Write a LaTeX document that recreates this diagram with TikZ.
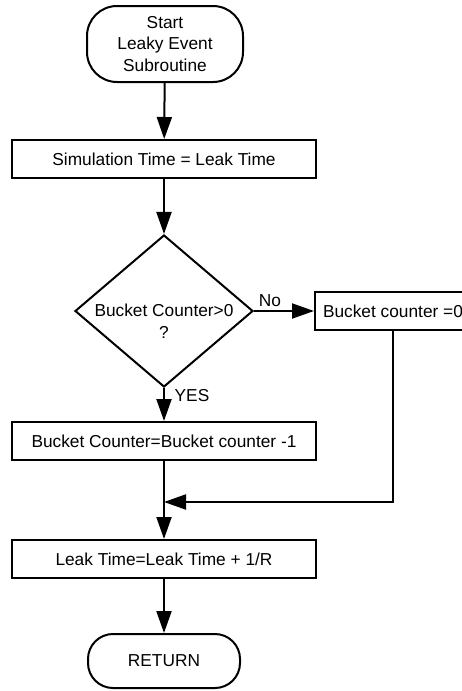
\documentclass[tikz,border=0pt]{standalone}
\usepackage{fontspec}
\setmainfont{Liberation Sans}
\usetikzlibrary{arrows.meta,shapes.geometric}
\begin{document}
\begin{tikzpicture}[x=1pt,y=-1pt,
  every node/.style={font=\fontsize{17.3}{21.5}\selectfont,inner sep=0pt},
  procbox/.style={draw,line width=2pt,minimum width=304pt,minimum height=38pt},
  terminal/.style={draw,line width=2pt,align=center},
  decision/.style={draw,line width=2pt,diamond,minimum width=178pt,minimum height=152pt},
  flowline/.style={line width=2pt},
  arrowline/.style={line width=2pt,-{Triangle[length=22pt,width=15pt]}},
]
\clip (0,0) rectangle (462,691);

% nodes of the flow
\node[terminal,minimum width=156pt,minimum height=76pt,rounded corners=30pt]
  (start) at (165,44) {Start\\Leaky Event\\Subroutine};
\node[procbox] (settime) at (164,159) {Simulation Time = Leak Time};
\node[decision] (check) at (164,311) {};
\node[align=center] (checktext) at (164,321) {Bucket Counter>0\\?};
\node[draw,line width=2pt,minimum width=156pt,minimum height=38pt]
  (zero) at (393,311) {Bucket counter =0};
\node[procbox] (dec) at (164,441) {Bucket Counter=Bucket counter -1};
\node[procbox] (leak) at (164,559) {Leak Time=Leak Time + 1/R};
\node[terminal,minimum width=152pt,minimum height=54pt,rounded corners=25pt]
  (ret) at (164,661) {RETURN};

% branch labels
\node (nolab) at (270,301) {No};
\node (yeslab) at (192,396) {YES};

\coordinate (merge) at (164,502);

% connectors
\draw[arrowline] (start) -- (settime);
\draw[arrowline] (settime) -- (check);
\draw[arrowline] (check.east) -- (zero.west);
\draw[arrowline] (check.south) -- (dec.north);
\draw[arrowline] (dec) -- (leak);
\draw[arrowline] (zero.south) -- (zero.south |- merge) -- (merge);
\draw[arrowline] (leak) -- (ret);
\end{tikzpicture}
\end{document}
